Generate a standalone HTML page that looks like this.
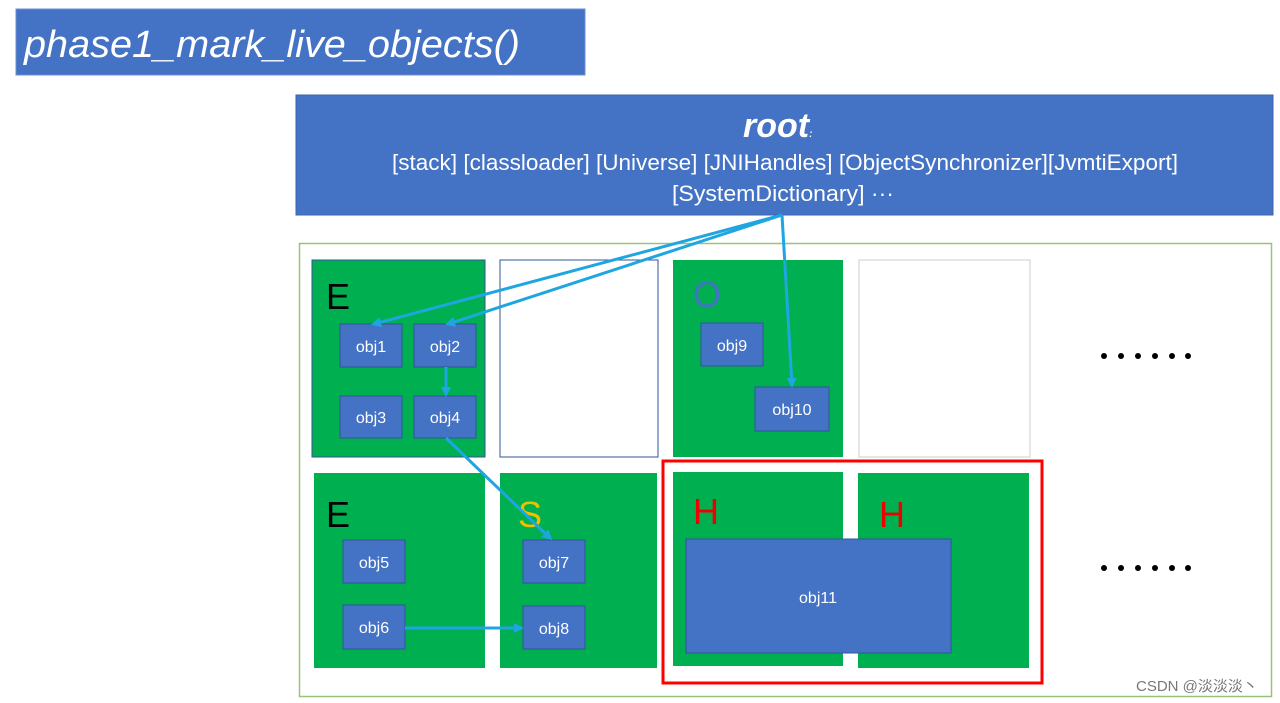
<!DOCTYPE html>
<html><head><meta charset="utf-8"><style>
html,body{margin:0;padding:0;background:#fff;width:1280px;height:703px;overflow:hidden}
svg text{font-family:"Liberation Sans","Noto Sans CJK SC",sans-serif}
</style></head><body>
<svg width="1280" height="703" viewBox="0 0 1280 703" xmlns="http://www.w3.org/2000/svg">
<defs><marker id="a" markerWidth="10" markerHeight="10" refX="7" refY="5" orient="auto" markerUnits="userSpaceOnUse"><path d="M0,0 L10,5 L0,10 z" fill="#1fa6e0"/></marker></defs>
<rect x="16" y="9" width="569" height="66" fill="#4472c4" stroke="#6d8fcf"/>
<text x="24" y="57" fill="#fff" font-size="38" font-style="italic" textLength="496" lengthAdjust="spacingAndGlyphs">phase1_mark_live_objects()</text>
<rect x="296" y="95" width="977" height="120" fill="#4472c4" stroke="#3f64aa"/>
<text x="743" y="137" fill="#fff" font-size="34" font-style="italic" font-weight="bold">root<tspan font-size="10">:</tspan></text>
<text x="392" y="170" fill="#fff" font-size="22" textLength="786" lengthAdjust="spacingAndGlyphs">[stack] [classloader] [Universe] [JNIHandles] [ObjectSynchronizer][JvmtiExport]</text>
<text x="672" y="201" fill="#fff" font-size="22" textLength="222" lengthAdjust="spacingAndGlyphs">[SystemDictionary] ···</text>
<rect x="299.5" y="243.5" width="972" height="453" fill="none" stroke="#9bc27a" stroke-width="1.5"/>
<g stroke="#2f5597" stroke-width="1">
<rect x="312" y="260" width="173" height="197" fill="#00b050"/>
<rect x="500" y="260" width="158" height="197" fill="#fff"/>
<rect x="673" y="260" width="170" height="197" fill="#00b050" stroke="none"/>
<rect x="859" y="260" width="171" height="197" fill="#fff" stroke="#c9ccd6"/>
<rect x="314" y="473" width="171" height="195" fill="#00b050" stroke="none"/>
<rect x="500" y="473" width="157" height="195" fill="#00b050" stroke="none"/>
<rect x="673" y="472" width="170" height="194" fill="#00b050" stroke="none"/>
<rect x="858" y="473" width="171" height="195" fill="#00b050" stroke="none"/>
</g>
<rect x="663" y="461" width="379" height="222" fill="none" stroke="#f00" stroke-width="3"/>
<g font-size="36">
<text x="326" y="309" fill="#000">E</text>
<text x="693" y="307" fill="#4472c4">O</text>
<text x="326" y="527" fill="#000">E</text>
<text x="518" y="527" fill="#f0c000">S</text>
<text x="693" y="524" fill="#e00">H</text>
<text x="879" y="527" fill="#e00">H</text>
</g>
<g fill="#4472c4" stroke="#2f5597">
<rect x="340" y="324" width="62" height="43"/><rect x="414" y="324" width="62" height="43"/>
<rect x="340" y="396" width="62" height="42"/><rect x="414" y="396" width="62" height="42"/>
<rect x="701" y="323" width="62" height="43"/><rect x="755" y="387" width="74" height="44"/>
<rect x="343" y="540" width="62" height="43"/><rect x="343" y="605" width="62" height="44"/>
<rect x="523" y="540" width="62" height="43"/><rect x="523" y="606" width="62" height="43"/>
<rect x="686" y="539" width="265" height="114"/>
</g>
<g fill="#fff" font-size="16" text-anchor="middle">
<text x="371" y="352">obj1</text><text x="445" y="352">obj2</text>
<text x="371" y="423">obj3</text><text x="445" y="423">obj4</text>
<text x="732" y="351">obj9</text><text x="792" y="415">obj10</text>
<text x="374" y="568">obj5</text><text x="374" y="633">obj6</text>
<text x="554" y="568">obj7</text><text x="554" y="634">obj8</text>
<text x="818" y="603">obj11</text>
</g>
<g stroke="#1fa6e0" stroke-width="3" fill="none" marker-end="url(#a)">
<line x1="782" y1="215" x2="374" y2="324"/>
<line x1="782" y1="215" x2="448" y2="324"/>
<line x1="782" y1="215" x2="792" y2="385"/>
<line x1="446" y1="367" x2="446" y2="394"/>
<line x1="446" y1="438" x2="550" y2="538"/>
<line x1="405" y1="628" x2="521" y2="628"/>
</g>
<g fill="#000">
<circle cx="1104" cy="356" r="3"/><circle cx="1121" cy="356" r="3"/><circle cx="1138" cy="356" r="3"/><circle cx="1155" cy="356" r="3"/><circle cx="1172" cy="356" r="3"/><circle cx="1188" cy="356" r="3"/>
<circle cx="1104" cy="568" r="3"/><circle cx="1121" cy="568" r="3"/><circle cx="1138" cy="568" r="3"/><circle cx="1155" cy="568" r="3"/><circle cx="1172" cy="568" r="3"/><circle cx="1188" cy="568" r="3"/>
</g>
<text x="1136" y="691" fill="#777" font-size="15">CSDN @淡淡淡丶</text>
</svg>
</body></html>
